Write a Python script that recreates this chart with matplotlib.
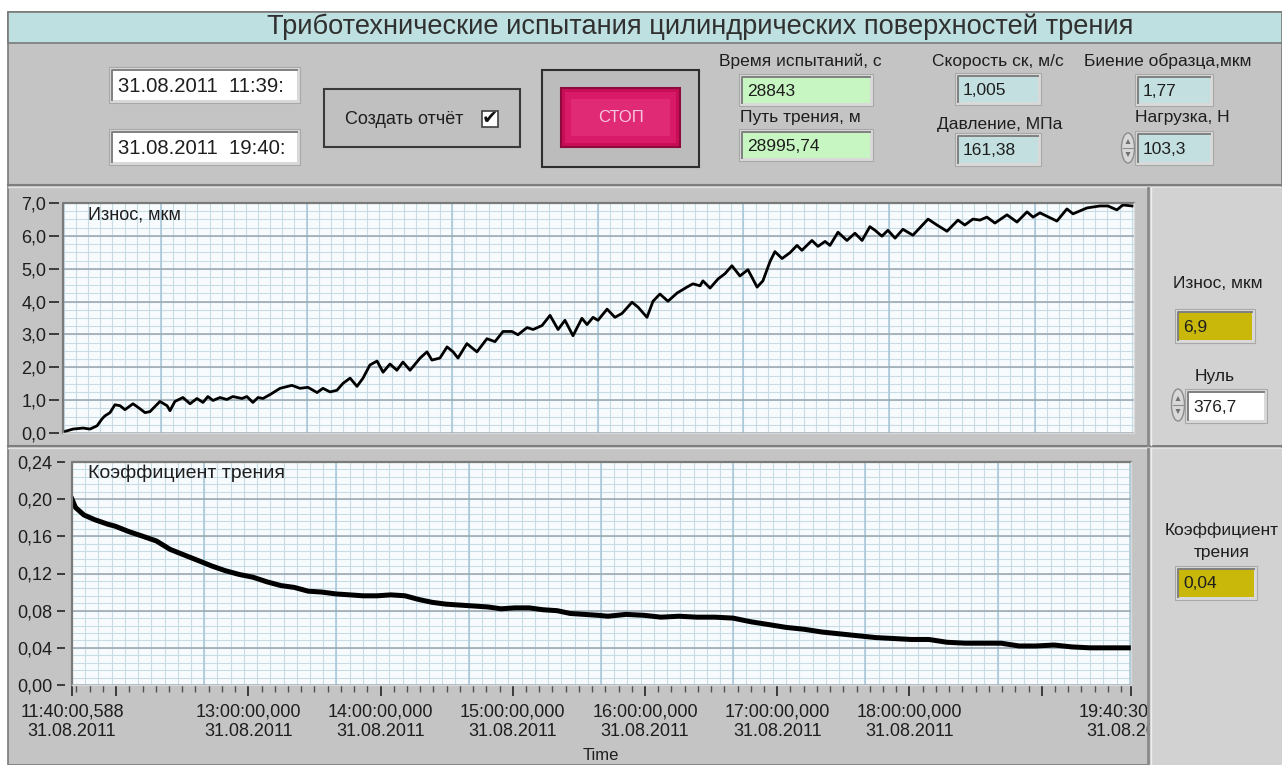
import numpy as np
import matplotlib
matplotlib.use("Agg")
import matplotlib.pyplot as plt
from matplotlib.patches import Rectangle, Ellipse, Polygon
from matplotlib.ticker import FixedLocator

plt.rcParams['font.family'] = ['Liberation Sans', 'DejaVu Sans']

W, H = 1282, 765

# ---- data: минуты от 11:40:00,588 ----
wear_t = [0.0, 4.5, 9.0, 12.1, 15.3, 17.5, 18.8, 21.1, 23.3, 25.6,
          27.8, 31.4, 34.5, 36.8, 39.0, 43.5, 46.7, 48.0, 50.2, 53.8,
          57.0, 60.1, 62.8, 65.0, 67.3, 70.4, 73.5, 76.2, 80.3, 82.5,
          85.2, 87.5, 89.7, 92.9, 97.4, 102.7, 106.3, 109.9, 114.0, 116.6,
          119.8, 122.9, 125.6, 128.8, 131.9, 134.6, 137.7, 140.9, 143.6, 146.7,
          149.8, 152.5, 155.7, 160.2, 163.3, 165.5, 169.1, 172.3, 175.0, 177.2,
          181.2, 185.7, 190.2, 193.8, 197.4, 201.4, 204.1, 208.2, 210.9, 214.9,
          218.5, 222.1, 225.2, 228.8, 232.8, 235.1, 237.8, 240.0, 244.1, 247.6,
          250.8, 255.3, 258.0, 262.0, 264.7, 267.8, 271.4, 275.5, 279.9, 282.6,
          285.8, 287.1, 290.3, 293.9, 297.0, 300.1, 303.7, 307.3, 311.4, 314.0,
          317.2, 319.4, 322.6, 326.2, 329.3, 331.5, 336.0, 338.7, 341.9, 344.1,
          347.7, 351.7, 355.3, 358.5, 362.0, 364.3, 367.4, 370.1, 373.3, 376.8,
          381.3, 388.1, 392.1, 396.6, 401.5, 404.6, 408.2, 411.4, 414.5, 418.1,
          423.5, 428.0, 432.5, 435.2, 438.3, 445.9, 450.4, 453.1, 459.4, 465.2,
          468.8, 472.8, 475.5, 479.6]
wear_um = [0.03, 0.12, 0.15, 0.12, 0.22, 0.43, 0.52, 0.62, 0.86, 0.83,
           0.71, 0.89, 0.74, 0.62, 0.65, 0.96, 0.83, 0.68, 0.96, 1.08,
           0.89, 1.05, 0.93, 1.11, 0.99, 1.08, 1.02, 1.11, 1.05, 1.11,
           0.93, 1.08, 1.05, 1.17, 1.36, 1.45, 1.36, 1.39, 1.23, 1.36,
           1.25, 1.30, 1.51, 1.67, 1.42, 1.67, 2.07, 2.19, 1.85, 2.10,
           1.91, 2.16, 1.91, 2.28, 2.47, 2.22, 2.28, 2.62, 2.47, 2.28,
           2.72, 2.47, 2.87, 2.78, 3.09, 3.09, 2.99, 3.21, 3.15, 3.27,
           3.58, 3.15, 3.43, 2.96, 3.49, 3.30, 3.52, 3.43, 3.77, 3.52,
           3.64, 3.98, 3.83, 3.52, 4.01, 4.23, 4.01, 4.26, 4.44, 4.54,
           4.48, 4.63, 4.41, 4.69, 4.85, 5.09, 4.78, 4.97, 4.44, 4.63,
           5.22, 5.52, 5.31, 5.49, 5.71, 5.56, 5.86, 5.68, 5.83, 5.71,
           6.11, 5.86, 6.08, 5.86, 6.28, 6.17, 5.99, 6.17, 5.93, 6.20,
           6.02, 6.51, 6.33, 6.14, 6.48, 6.33, 6.51, 6.48, 6.57, 6.39,
           6.64, 6.42, 6.73, 6.57, 6.70, 6.45, 6.82, 6.67, 6.85, 6.91,
           6.91, 6.79, 6.94, 6.91]

fric_t = [0.0, 1.6, 5.4, 10.2, 16.3, 19.5, 25.9, 32.2, 38.3, 44.5,
          50.8, 57.2, 63.5, 69.6, 75.8, 82.1, 88.5, 94.8, 100.9, 107.1,
          113.4, 119.8, 126.1, 132.0, 138.4, 144.7, 151.1, 157.4, 163.3, 169.7,
          176.0, 182.4, 188.7, 194.6, 201.0, 207.4, 213.7, 220.1, 226.0, 232.3,
          238.7, 243.2, 251.4, 259.5, 267.2, 275.4, 283.6, 291.7, 299.9, 308.1,
          316.2, 324.0, 332.1, 340.3, 348.5, 356.6, 364.8, 373.0, 380.7, 388.8,
          397.0, 405.2, 413.3, 421.5, 429.7, 437.4, 445.6, 453.7, 461.9, 470.1,
          479.6]
fric_mu = [0.200, 0.191, 0.183, 0.178, 0.173, 0.171, 0.165, 0.160, 0.155, 0.146,
           0.140, 0.134, 0.128, 0.123, 0.119, 0.116, 0.111, 0.107, 0.105, 0.101,
           0.100, 0.098, 0.097, 0.096, 0.096, 0.097, 0.096, 0.092, 0.089, 0.087,
           0.086, 0.085, 0.084, 0.082, 0.083, 0.083, 0.081, 0.080, 0.077, 0.076,
           0.075, 0.074, 0.076, 0.075, 0.073, 0.074, 0.073, 0.073, 0.072, 0.068,
           0.065, 0.062, 0.060, 0.057, 0.055, 0.053, 0.051, 0.050, 0.049, 0.049,
           0.046, 0.045, 0.045, 0.045, 0.042, 0.042, 0.043, 0.041, 0.040, 0.040,
           0.040]

t_end = 480.49
time_ticks = [0.0, 19.99, 79.99, 139.99, 199.99, 259.99, 319.99, 379.99, 439.99, t_end]
time_labels = ["11:40:00,588\n31.08.2011", "",
               "13:00:00,000\n31.08.2011", "14:00:00,000\n31.08.2011",
               "15:00:00,000\n31.08.2011", "16:00:00,000\n31.08.2011",
               "17:00:00,000\n31.08.2011", "18:00:00,000\n31.08.2011",
               "", "19:40:30,000\n31.08.2011"]
wear_ticks = [0, 1, 2, 3, 4, 5, 6, 7]
wear_labels = ["0,0", "1,0", "2,0", "3,0", "4,0", "5,0", "6,0", "7,0"]
fric_ticks = [0.0, 0.04, 0.08, 0.12, 0.16, 0.20, 0.24]
fric_labels = ["0,00", "0,04", "0,08", "0,12", "0,16", "0,20", "0,24"]

title = "Триботехнические испытания цилиндрических поверхностей трения"
date_start = "31.08.2011  11:39:"
date_stop = "31.08.2011  19:40:"
test_time = "28843"
friction_path = "28995,74"
speed = "1,005"
pressure = "161,38"
runout = "1,77"
load = "103,3"
wear_now = "6,9"
zero_level = "376,7"
fric_now = "0,04"

PANEL = '#c4c4c4'
SIDE = '#d2d2d2'
GREEN = '#c8f6c2'
BLUE = '#c3dfe0'
YELLOW = '#c9b80a'
TXT = '#1e1e1e'

fig = plt.figure(figsize=(W / 100, H / 100), dpi=100, facecolor='white')


def box(x0, y0, x1, y1):
    return [x0 / W, 1 - y1 / H, (x1 - x0) / W, (y1 - y0) / H]


def field(ax, x0, y0, x1, y1, color, text, fs=12.5):
    ax.add_patch(Rectangle((x0 - 3, y0 - 3), x1 - x0 + 6, y1 - y0 + 6,
                           fc='#d9d9d9', ec='#a8a8a8', lw=0.8))
    ax.add_patch(Rectangle((x0, y0), x1 - x0, y1 - y0, fc=color, ec='none'))
    ax.plot([x0, x0, x1], [y1, y0, y0], color='#808080', lw=1.4)
    ax.text(x0 + 5, (y0 + y1) / 2 + 1, text, ha='left', va='center',
            fontsize=fs, color=TXT)


def spinner(ax, xc, y0, y1):
    ax.add_patch(Ellipse((xc, (y0 + y1) / 2), 13, y1 - y0, fc='#d8d8d8',
                         ec='#8c8c8c', lw=1))
    ym = (y0 + y1) / 2
    ax.plot([xc - 5, xc + 5], [ym, ym], color='#8c8c8c', lw=0.8)
    ax.add_patch(Polygon([[xc - 2.5, ym - 4], [xc + 2.5, ym - 4], [xc, ym - 9]],
                         fc='#707070', ec='none'))
    ax.add_patch(Polygon([[xc - 2.5, ym + 4], [xc + 2.5, ym + 4], [xc, ym + 9]],
                         fc='#707070', ec='none'))


# ---- фон панели ----
bg = fig.add_axes([0, 0, 1, 1], zorder=0)
bg.set_xlim(0, W)
bg.set_ylim(H, 0)
bg.axis('off')
bg.add_patch(Rectangle((8, 12), W - 8, H - 12, fc=PANEL, ec='#7a7a7a', lw=1.2))
bg.add_patch(Rectangle((8, 12), W - 8, 31, fc='#bfe0e0', ec='#7a7a7a', lw=1.2))
bg.text(700, 27, title, ha='center', va='center', fontsize=19.6, color='#303030')
bg.plot([8, W], [185, 185], color='#7e7e7e', lw=1.5)
bg.plot([8, W], [187, 187], color='#e2e2e2', lw=1)
bg.plot([8, W], [446, 446], color='#7e7e7e', lw=1.5)
bg.plot([8, W], [448, 448], color='#e2e2e2', lw=1)

# даты
for y0, txt in [(70, date_start), (132, date_stop)]:
    bg.add_patch(Rectangle((109, y0 - 3), 191, 36, fc='#d9d9d9', ec='#a8a8a8', lw=0.8))
    bg.add_patch(Rectangle((112, y0), 185, 30, fc='white', ec='none'))
    bg.plot([112, 112, 297], [y0 + 30, y0, y0], color='#808080', lw=1.4)
    bg.text(118, y0 + 16, txt, ha='left', va='center', fontsize=14.6, color=TXT)

# создать отчёт
bg.add_patch(Rectangle((324, 89), 196, 58, fc='#c0c0c0', ec='#3a3a3a', lw=1.5))
bg.text(345, 119, "Создать отчёт", ha='left', va='center', fontsize=13, color=TXT)
bg.add_patch(Rectangle((482, 111), 16, 16, fc='white', ec='#404040', lw=1.2))
bg.text(490, 118, "✔", ha='center', va='center', fontsize=14, color='#111111',
        family=['DejaVu Sans'], fontweight='bold')

# кнопка СТОП
bg.add_patch(Rectangle((542, 70), 157, 97, fc='#bcbcbc', ec='#2e2e2e', lw=1.5))
bg.add_patch(Rectangle((561, 88), 119, 59, fc='#c80f55', ec='#8e0a3e', lw=1.5))
bg.add_patch(Rectangle((565, 92), 111, 51, fc='#d81a68', ec='none'))
bg.add_patch(Rectangle((571, 99), 99, 37, fc='#e02a76', ec='none'))
bg.text(621, 117, "СТОП", ha='center', va='center', fontsize=12, color='#f7c6de')

# индикаторы
bg.text(800, 61, "Время испытаний, с", ha='center', va='center', fontsize=12.5, color=TXT)
field(bg, 742, 77, 870, 103, GREEN, test_time)
bg.text(800, 117, "Путь трения, м", ha='center', va='center', fontsize=12.5, color=TXT)
field(bg, 742, 132, 870, 158, GREEN, friction_path)
bg.text(998, 61, "Скорость ск, м/с", ha='center', va='center', fontsize=12.5, color=TXT)
field(bg, 958, 76, 1038, 102, BLUE, speed)
bg.text(1000, 124, "Давление, МПа", ha='center', va='center', fontsize=12.5, color=TXT)
field(bg, 958, 136, 1038, 163, BLUE, pressure)
bg.text(1168, 61, "Биение образца,мкм", ha='center', va='center', fontsize=12.5, color=TXT)
field(bg, 1138, 77, 1210, 103, BLUE, runout)
bg.text(1182, 117, "Нагрузка, Н", ha='center', va='center', fontsize=12.5, color=TXT)
spinner(bg, 1128, 133, 163)
field(bg, 1138, 134, 1210, 162, BLUE, load)

# ---- графики ----
PLOT_BG = '#f7fbfd'
MINOR = '#c8dce6'
MAJ_V = '#a6c6da'
MAJ_H = '#98a6ae'


def style_axes(ax):
    ax.set_facecolor(PLOT_BG)
    for s in ['left', 'bottom', 'right', 'top']:
        ax.spines[s].set_visible(False)
    ax.plot([0, 0, 1], [0, 1, 1], transform=ax.transAxes, color='#7a7a7a',
            lw=1.6, clip_on=False, zorder=5)
    ax.plot([0, 1, 1], [0, 0, 1], transform=ax.transAxes, color='#d8d8d8',
            lw=1.0, clip_on=False, zorder=5)
    ax.spines['left'].set_position(('outward', 3))


def grid_lines(ax, xs_minor, xs_major, ys_minor, ys_major):
    for x in xs_minor:
        ax.axvline(x, color=MINOR, lw=0.8, zorder=0.5)
    for y in ys_minor:
        ax.axhline(y, color=MINOR, lw=0.8, zorder=0.5)
    for x in xs_major:
        ax.axvline(x, color=MAJ_V, lw=1.1, zorder=0.6)
    for y in ys_major:
        ax.axhline(y, color=MAJ_H, lw=1.1, zorder=0.6)


# износ
ax1 = fig.add_axes(box(63, 203, 1134, 433), zorder=1)
style_axes(ax1)
ax1.set_xlim(0, t_end)
ax1.set_ylim(0, 7)
step1 = 65.32 / 12
grid_lines(ax1, np.arange(0.43, t_end, step1), np.arange(43.97, t_end, 65.32),
           np.arange(0, 7.01, 0.25), wear_ticks)
ax1.plot(wear_t, wear_um, color='black', lw=2.0, zorder=3)
ax1.set_xticks([])
ax1.yaxis.set_major_locator(FixedLocator(wear_ticks))
ax1.set_yticklabels(wear_labels)
ax1.tick_params(axis='y', direction='out', length=7, width=1.3, color='#303030',
                pad=2, labelsize=13, labelcolor=TXT)
ax1.text(0.023, 0.95, "Износ, мкм", transform=ax1.transAxes, ha='left',
         va='center', fontsize=13, color=TXT)

# коэффициент трения
ax2 = fig.add_axes(box(72, 462, 1131, 685), zorder=1)
style_axes(ax2)
ax2.set_xlim(0, t_end)
ax2.set_ylim(0, 0.24)
grid_lines(ax2, np.arange(0, t_end, 6.0), np.arange(60, t_end, 60.0),
           np.arange(0, 0.2401, 0.008), fric_ticks)
ax2.plot(fric_t, fric_mu, color='black', lw=3.6, zorder=3)
ax2.yaxis.set_major_locator(FixedLocator(fric_ticks))
ax2.set_yticklabels(fric_labels)
ax2.tick_params(axis='y', direction='out', length=6, width=1.3, color='#303030',
                pad=3, labelsize=13, labelcolor=TXT)
ax2.spines['left'].set_position(('outward', 5))
ax2.xaxis.set_major_locator(FixedLocator(time_ticks))
ax2.xaxis.set_minor_locator(FixedLocator(np.arange(1.99, t_end, 6.0)))
ax2.set_xticklabels(time_labels)
ax2.tick_params(axis='x', which='major', direction='out', length=8, width=1.3,
                color='#303030', pad=5, labelsize=13, labelcolor=TXT)
ax2.tick_params(axis='x', which='minor', direction='out', length=5, width=1.0,
                color='#505050')
for lab in ax2.get_xticklabels():
    lab.set_linespacing(1.25)
ax2.text(0.015, 0.951, "Коэффициент трения", transform=ax2.transAxes, ha='left',
         va='center', fontsize=14, color=TXT)
bg.text(601, 755, "Time", ha='center', va='center', fontsize=12, color=TXT)

# ---- правые панели ----
side = fig.add_axes([0, 0, 1, 1], zorder=3)
side.set_xlim(0, W)
side.set_ylim(H, 0)
side.axis('off')
for y0, y1 in [(188, 445), (449, 765)]:
    side.add_patch(Rectangle((1150, y0), W - 1150, y1 - y0, fc=SIDE, ec='none'))
    side.plot([1148, 1148], [y0, y1], color='#8a8a8a', lw=2)
    side.plot([1151, 1151], [y0, y1], color='#eeeeee', lw=1)

side.text(1218, 283, "Износ, мкм", ha='center', va='center', fontsize=12.5, color=TXT)
field(side, 1178, 312, 1252, 340, YELLOW, wear_now)
side.text(1215, 376, "Нуль", ha='center', va='center', fontsize=12.5, color=TXT)
spinner(side, 1178, 389, 421)
field(side, 1188, 392, 1264, 420, 'white', zero_level)

side.text(1222, 530, "Коэффициент", ha='center', va='center', fontsize=12.5, color=TXT)
side.text(1222, 552, "трения", ha='center', va='center', fontsize=12.5, color=TXT)
field(side, 1178, 569, 1254, 597, YELLOW, fric_now)

fig.savefig("out.png", dpi=100, facecolor=fig.get_facecolor())
